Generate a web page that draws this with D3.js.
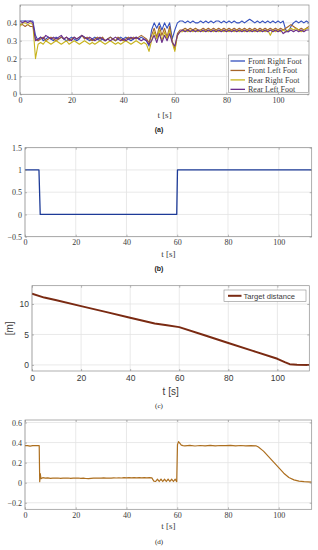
<!DOCTYPE html>
<html>
<head>
<meta charset="utf-8">
<script src="https://cdn.jsdelivr.net/npm/d3@7"></script>
<style>
  html, body { margin: 0; padding: 0; background: #fff; }
  svg { display: block; }
</style>
</head>
<body>
<svg id="chart" width="318" height="550"></svg>
<script>
// (a) foot contact signals, sampled once per second from t = 0 s
const footStep = 1;
const frontRight = [
  0.41,0.41,0.41,0.41,0.41,0.41,0.33,0.30,
  0.32,0.30,0.31,0.32,0.31,0.30,0.32,0.31,0.32,0.31,0.30,0.31,0.32,0.31,0.30,0.31,0.33,0.32,0.31,0.30,0.31,
  0.32,0.31,0.30,0.31,0.30,0.31,0.32,0.31,0.30,0.31,0.32,0.31,0.32,0.31,0.30,0.31,0.32,0.31,0.32,0.31,0.30,
  0.27,0.36,0.40,0.37,0.40,0.36,0.40,0.37,0.40,0.31,0.36,0.40,0.41,
  0.41,0.40,0.41,0.40,0.41,0.40,0.40,0.41,0.40,0.41,0.40,0.41,0.40,0.41,0.41,0.40,0.41,0.40,0.41,0.40,0.41,
  0.40,0.40,0.41,0.40,0.41,0.42,0.41,0.40,0.41,0.40,0.41,0.40,0.41,0.40,0.41,0.40,0.41,0.40,0.41,0.36,0.35,
  0.38,0.40,0.41,0.40,0.41,0.40,0.41,0.40,0.41
];
const frontLeft = [
  0.39,0.39,0.38,0.39,0.38,0.38,0.31,0.30,
  0.31,0.32,0.30,0.31,0.32,0.31,0.30,0.31,0.32,0.31,0.32,0.30,0.31,0.32,0.31,0.32,0.33,0.31,0.32,0.31,0.30,
  0.31,0.32,0.31,0.32,0.30,0.31,0.32,0.31,0.30,0.32,0.31,0.30,0.31,0.32,0.31,0.32,0.31,0.32,0.33,0.32,0.31,
  0.29,0.33,0.37,0.32,0.38,0.33,0.37,0.32,0.38,0.30,0.25,0.34,0.36,
  0.36,0.37,0.36,0.37,0.36,0.37,0.36,0.36,0.37,0.36,0.37,0.36,0.37,0.36,0.37,0.36,0.37,0.36,0.37,0.36,0.37,
  0.36,0.37,0.36,0.37,0.36,0.37,0.36,0.37,0.36,0.37,0.36,0.37,0.36,0.37,0.36,0.37,0.36,0.37,0.36,0.37,
  0.38,0.39,0.38,0.37,0.36,0.37,0.36,0.37,0.38
];
const rearRight = [
  0.38,0.40,0.40,0.39,0.40,0.39,0.20,0.28,
  0.29,0.28,0.30,0.29,0.28,0.29,0.30,0.29,0.28,0.29,0.30,0.28,0.29,0.30,0.29,0.28,0.29,0.30,0.29,0.28,0.29,
  0.28,0.29,0.30,0.29,0.28,0.29,0.30,0.29,0.28,0.29,0.28,0.29,0.30,0.29,0.28,0.29,0.30,0.29,0.28,0.29,0.28,
  0.24,0.30,0.35,0.31,0.36,0.30,0.35,0.31,0.36,0.29,0.24,0.33,0.35,
  0.35,0.36,0.35,0.36,0.35,0.36,0.35,0.36,0.35,0.36,0.35,0.36,0.35,0.36,0.35,0.36,0.35,0.36,0.35,0.36,0.35,
  0.36,0.35,0.36,0.35,0.36,0.35,0.36,0.35,0.36,0.35,0.36,0.35,0.36,0.33,0.36,0.35,0.36,0.35,0.36,0.35,
  0.36,0.37,0.36,0.37,0.36,0.35,0.36,0.37,0.37
];
const rearLeft = [
  0.41,0.40,0.41,0.40,0.41,0.40,0.30,0.31,
  0.32,0.31,0.33,0.32,0.31,0.32,0.31,0.32,0.33,0.31,0.32,0.31,0.30,0.32,0.31,0.32,0.33,0.32,0.31,0.32,0.31,
  0.30,0.31,0.32,0.31,0.30,0.31,0.30,0.31,0.32,0.31,0.30,0.31,0.30,0.31,0.32,0.31,0.32,0.31,0.30,0.31,0.30,
  0.28,0.30,0.33,0.29,0.34,0.29,0.33,0.30,0.34,0.29,0.27,0.33,0.35,
  0.36,0.35,0.36,0.35,0.36,0.35,0.36,0.35,0.36,0.35,0.36,0.35,0.36,0.35,0.36,0.35,0.36,0.35,0.36,0.35,0.36,
  0.35,0.36,0.35,0.36,0.35,0.36,0.35,0.36,0.35,0.36,0.35,0.36,0.35,0.36,0.35,0.36,0.35,0.36,0.34,0.35,
  0.35,0.36,0.35,0.36,0.35,0.36,0.35,0.36,0.36
];
const footNames = ['Front Right Foot', 'Front Left Foot', 'Rear Right Foot', 'Rear Left Foot'];
const footColors = ['#3450bd', '#a5652a', '#c7b31c', '#6a2d8c'];

// (b) mode switch
const modeTime = [0, 5.5, 6.0, 59.8, 60.1, 113];
const modeValue = [1, 1, 0, 0, 1, 1];

// (c) target distance [m]
const distTime = [0, 5, 10, 20, 30, 40, 50, 55, 60, 70, 80, 90, 100, 103, 105, 108, 113];
const distValue = [11.7, 11.05, 10.6, 9.65, 8.7, 7.75, 6.8, 6.5, 6.2, 4.9, 3.6, 2.3, 1.0, 0.45, 0.12, 0.03, 0.0];

// (d) signal
const sigTime = [
  0, 1, 2, 3, 4, 5, 5.6, 5.8, 6.0, 6.3, 7, 8, 9, 10, 11, 12, 13, 14, 15, 16, 17, 18, 19, 20,
  21, 22, 23, 24, 25, 26, 27, 28, 29, 30, 31, 32, 33, 34, 35, 36, 37, 38, 39, 40, 41, 42, 43, 44, 45,
  46, 47, 48, 49, 50, 50.8, 51.5, 52.2, 52.9, 53.6, 54.3, 55, 55.7, 56.4, 57.1, 57.8, 58.5, 59.2, 59.8,
  60.1, 60.5, 61, 61.6, 62.3, 63, 65, 67, 69, 71, 73, 75, 77, 79, 81, 83, 85, 87, 89, 91,
  92, 94, 96, 98, 100, 102, 104, 106, 108, 110, 113
];
const sigValue = [
  0.37, 0.37, 0.365, 0.37, 0.37, 0.37, 0.37, 0.01, 0.09, 0.04, 0.05, 0.045, 0.048, 0.044, 0.046, 0.045, 0.047, 0.044, 0.046, 0.045, 0.047, 0.044, 0.046, 0.045,
  0.047, 0.044, 0.046, 0.042, 0.040, 0.044, 0.046, 0.045, 0.047, 0.046, 0.048, 0.045, 0.047, 0.046, 0.048, 0.047, 0.049, 0.047, 0.050, 0.048, 0.050, 0.048, 0.051, 0.049, 0.050,
  0.048, 0.051, 0.049, 0.050, 0.048, 0.015, 0.012, 0.035, 0.012, 0.036, 0.012, 0.035, 0.012, 0.036, 0.012, 0.035, 0.012, 0.035, 0.010,
  0.38, 0.41, 0.395, 0.375, 0.37, 0.368, 0.372, 0.366, 0.371, 0.368, 0.373, 0.367, 0.371, 0.369, 0.372, 0.368, 0.371, 0.367, 0.370, 0.368,
  0.355, 0.315, 0.26, 0.205, 0.15, 0.095, 0.052, 0.028, 0.016, 0.01, 0.005
];

const svg = d3.select('#chart');
const serif = '"Liberation Serif", "DejaVu Serif", serif';
const sans = '"Liberation Sans", Arial, sans-serif';
const boxColor = '#8c8c8c';
const gridColor = '#e3e3e3';
const textColor = '#3a3a3a';

function drawPanel(cfg) {
  const g = svg.append('g');
  const x = d3.scaleLinear().domain(cfg.xDomain).range([cfg.left, cfg.right]);
  const y = d3.scaleLinear().domain(cfg.yDomain).range([cfg.bottom, cfg.top]);

  // grid
  g.append('g').selectAll('line').data(cfg.xTicks).join('line')
    .attr('x1', d => x(d)).attr('x2', d => x(d))
    .attr('y1', cfg.top).attr('y2', cfg.bottom)
    .attr('stroke', gridColor).attr('stroke-width', 0.8);
  g.append('g').selectAll('line').data(cfg.yTicks).join('line')
    .attr('y1', d => y(d)).attr('y2', d => y(d))
    .attr('x1', cfg.left).attr('x2', cfg.right)
    .attr('stroke', gridColor).attr('stroke-width', 0.8);

  // series
  const clipId = 'clip' + cfg.id;
  g.append('clipPath').attr('id', clipId).append('rect')
    .attr('x', cfg.left).attr('y', cfg.top)
    .attr('width', cfg.right - cfg.left).attr('height', cfg.bottom - cfg.top);
  const lines = g.append('g').attr('clip-path', `url(#${clipId})`);
  const line = d3.line().x(d => x(d[0])).y(d => y(d[1]));
  cfg.series.forEach(s => {
    lines.append('path')
      .attr('d', line(s.points))
      .attr('fill', 'none')
      .attr('stroke', s.color)
      .attr('stroke-width', s.width)
      .attr('stroke-linejoin', 'round');
  });

  // axes with inward ticks
  const font = cfg.font;
  const bottomAxis = g.append('g').attr('transform', `translate(0,${cfg.bottom})`)
    .call(d3.axisBottom(x).tickValues(cfg.xTicks).tickSize(-2).tickPadding(cfg.xPad).tickFormat(d3.format('d')));
  const leftAxis = g.append('g').attr('transform', `translate(${cfg.left},0)`)
    .call(d3.axisLeft(y).tickValues(cfg.yTicks).tickSize(-2).tickPadding(3).tickFormat(cfg.yFormat));
  g.append('g').attr('transform', `translate(0,${cfg.top})`)
    .call(d3.axisTop(x).tickValues(cfg.xTicks).tickSize(-2).tickFormat(''));
  g.append('g').attr('transform', `translate(${cfg.right},0)`)
    .call(d3.axisRight(y).tickValues(cfg.yTicks).tickSize(-2).tickFormat(''));
  g.selectAll('.domain').remove();
  g.selectAll('.tick line').attr('stroke', boxColor).attr('stroke-width', 0.6);
  [bottomAxis, leftAxis].forEach(a => {
    a.attr('font-family', font);
    a.selectAll('text')
      .attr('font-family', font).attr('font-size', cfg.tickSize).attr('fill', textColor);
  });

  g.append('rect')
    .attr('x', cfg.left).attr('y', cfg.top)
    .attr('width', cfg.right - cfg.left).attr('height', cfg.bottom - cfg.top)
    .attr('fill', 'none').attr('stroke', boxColor).attr('stroke-width', 0.7);

  g.append('text')
    .attr('x', (cfg.left + cfg.right) / 2).attr('y', cfg.xLabelY)
    .attr('text-anchor', 'middle')
    .attr('font-family', font).attr('font-size', cfg.labelSize).attr('fill', textColor)
    .text('t [s]');

  g.append('text')
    .attr('x', 159).attr('y', cfg.captionY)
    .attr('text-anchor', 'middle')
    .attr('font-family', cfg.captionFont).attr('font-weight', cfg.captionWeight)
    .attr('font-size', 7).attr('fill', '#222')
    .text(cfg.caption);

  return { g, x, y };
}

const zip = (ts, vs) => vs.map((v, i) => [ts[i], v]);
const sampled = vs => vs.map((v, i) => [i * footStep, v]);

// (a)
const footSeries = [frontRight, frontLeft, rearRight, rearLeft];
const pa = drawPanel({
  id: 'a', left: 20, right: 309, top: 5, bottom: 94.3,
  xDomain: [0, 112], yDomain: [0, 0.5],
  xTicks: [0, 20, 40, 60, 80, 100], yTicks: [0, 0.1, 0.2, 0.3, 0.4],
  yFormat: d => d === 0 ? '0' : d3.format('.1f')(d),
  font: serif, tickSize: 8, labelSize: 9, xPad: 3,
  xLabelY: 118, caption: '(a)', captionY: 131.5, captionFont: sans, captionWeight: 'bold',
  series: footSeries.map((s, i) => ({ points: sampled(s), color: footColors[i], width: 1.1 }))
});
const legA = pa.g.append('g');
legA.append('rect').attr('x', 228.3).attr('y', 55).attr('width', 80).attr('height', 37.5)
  .attr('fill', '#fff').attr('stroke', boxColor).attr('stroke-width', 0.6);
footNames.forEach((name, i) => {
  const cy = 61 + i * 9.45;
  legA.append('line').attr('x1', 230.5).attr('x2', 245).attr('y1', cy).attr('y2', cy)
    .attr('stroke', footColors[i]).attr('stroke-width', 1.3);
  legA.append('text').attr('x', 248).attr('y', cy + 2.6)
    .attr('font-family', serif).attr('font-size', 8).attr('fill', textColor).text(name);
});

// (b)
drawPanel({
  id: 'b', left: 25, right: 311.7, top: 147.7, bottom: 236.7,
  xDomain: [0, 113], yDomain: [-0.5, 1.5],
  xTicks: [0, 20, 40, 60, 80, 100], yTicks: [-0.5, 0, 0.5, 1, 1.5],
  yFormat: d => Number.isInteger(d) ? String(d) : d3.format('.1f')(d),
  font: serif, tickSize: 8, labelSize: 9, xPad: 3,
  xLabelY: 256.5, caption: '(b)', captionY: 270.5, captionFont: sans, captionWeight: 'bold',
  series: [{ points: zip(modeTime, modeValue), color: '#1d3b98', width: 1.3 }]
});

// (c)
const pc = drawPanel({
  id: 'c', left: 32, right: 309.3, top: 285.7, bottom: 371,
  xDomain: [0, 113], yDomain: [-1, 13],
  xTicks: [0, 20, 40, 60, 80, 100], yTicks: [0, 5, 10],
  yFormat: d3.format('d'),
  font: sans, tickSize: 8.5, labelSize: 10, xPad: 3.5,
  xLabelY: 395, caption: '(c)', captionY: 407.5, captionFont: serif, captionWeight: 'normal',
  series: [{ points: zip(distTime, distValue), color: '#7a2a12', width: 2 }]
});
pc.g.append('text')
  .attr('transform', `translate(12.5,${(285.7 + 371) / 2}) rotate(-90)`)
  .attr('text-anchor', 'middle')
  .attr('font-family', sans).attr('font-size', 10).attr('fill', textColor)
  .text('[m]');
const legC = pc.g.append('g');
legC.append('rect').attr('x', 224).attr('y', 290).attr('width', 82).attr('height', 11.5)
  .attr('fill', '#fff').attr('stroke', boxColor).attr('stroke-width', 0.6);
legC.append('line').attr('x1', 228).attr('x2', 241.5).attr('y1', 295.8).attr('y2', 295.8)
  .attr('stroke', '#7a2a12').attr('stroke-width', 2);
legC.append('text').attr('x', 243.5).attr('y', 298.5)
  .attr('font-family', sans).attr('font-size', 7.6).attr('fill', textColor).text('Target distance');

// (d)
drawPanel({
  id: 'd', left: 25, right: 311.7, top: 420, bottom: 509.3,
  xDomain: [0, 113], yDomain: [-0.265, 0.625],
  xTicks: [0, 20, 40, 60, 80, 100], yTicks: [-0.2, 0, 0.2, 0.4, 0.6],
  yFormat: d => Math.abs(d) < 1e-9 ? '0' : d3.format('.1f')(d),
  font: serif, tickSize: 8, labelSize: 9, xPad: 3,
  xLabelY: 529, caption: '(d)', captionY: 543.5, captionFont: serif, captionWeight: 'normal',
  series: [{ points: zip(sigTime, sigValue), color: '#ad6f1f', width: 1.2 }]
});
</script>
</body>
</html>
